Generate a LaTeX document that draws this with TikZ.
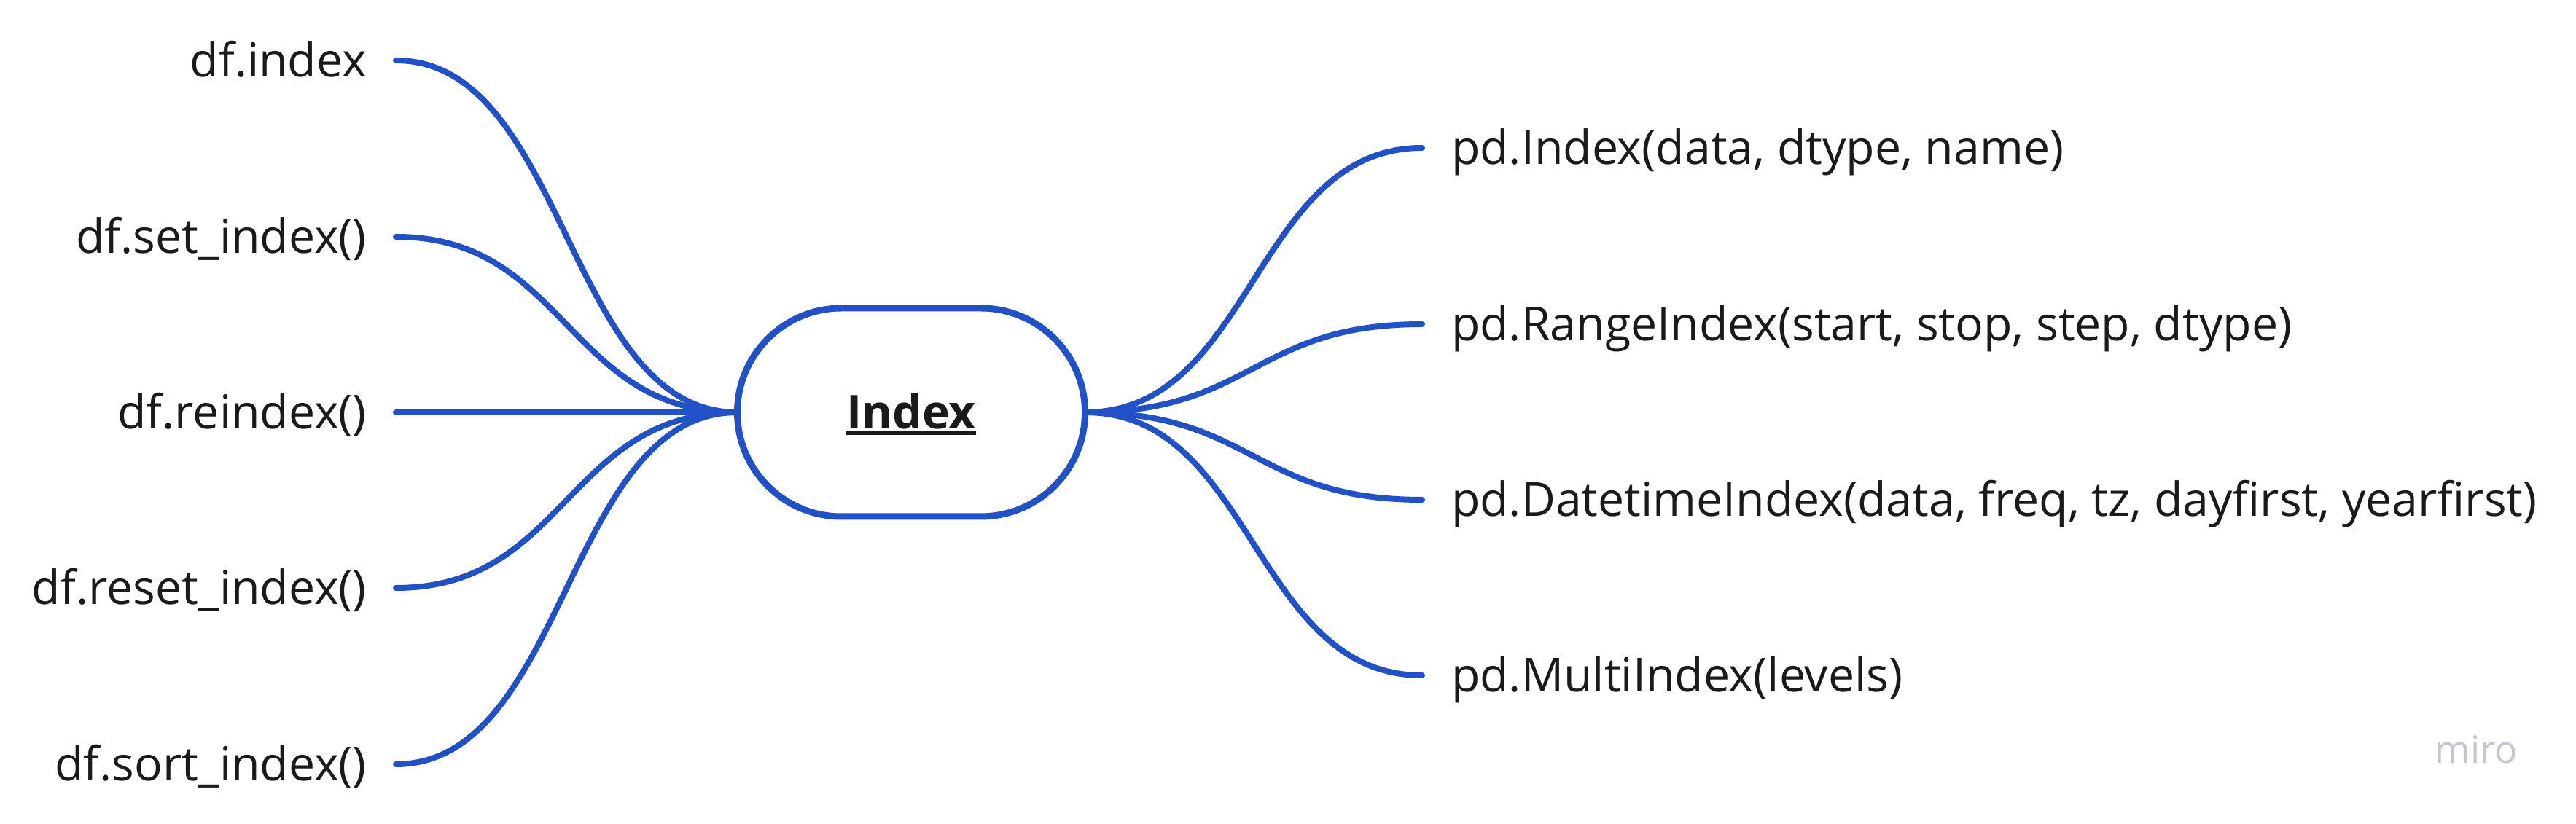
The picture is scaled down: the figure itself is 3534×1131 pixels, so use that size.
\documentclass[tikz,border=0pt]{standalone}
\usepackage{fontspec}
\setmainfont{Open Sans}
\usetikzlibrary{positioning}

\definecolor{branchblue}{RGB}{33,80,199}
\definecolor{labelink}{RGB}{26,26,26}
\definecolor{logogray}{RGB}{197,199,208}
\newcommand{\boxul}[1]{\setbox0\hbox{#1}\rlap{\rule[-2.1pt]{\wd0}{1.25pt}}\box0}

\begin{document}
\begin{tikzpicture}[x=0.25pt, y=-0.25pt,
    branch/.style={draw=branchblue, line width=2pt, line cap=round},
    leftlbl/.style={anchor=east, inner xsep=10pt, inner ysep=0pt, outer sep=0pt,
        text height=12.5pt, text depth=1pt, text=labelink, font=\fontsize{16.1}{19}\selectfont},
    rightlbl/.style={leftlbl, anchor=west},
    centerbox/.style={draw=branchblue, line width=2.25pt, rounded corners=35.75pt,
        minimum width=119.25pt, minimum height=71.5pt, inner sep=0pt, outer sep=0pt,
        text height=11.5pt, text depth=0pt, text=labelink, font=\bfseries\fontsize{16}{19}\selectfont}]
    \useasboundingbox (0,0) rectangle (3534,1131);

    \node (index) [centerbox] at (1250,566) {\boxul{Index}};

    % methods on the frame
    \node (dfidx) [leftlbl] at (543,83) {df.index};
    \node (setidx) [leftlbl] at (543,325) {df.set\_index()};
    \node (reidx) [leftlbl] at (543,566) {df.reindex()};
    \node (resetidx) [leftlbl] at (543,807) {df.reset\_index()};
    \node (sortidx) [leftlbl] at (543,1049) {df.sort\_index()};

    % constructors
    \node (pdidx) [rightlbl] at (1951,203) {pd.Index(data, dtype, name)};
    \node (rangeidx) [rightlbl] at (1951,445) {pd.RangeIndex(start, stop, step, dtype)};
    \node (dtidx) [rightlbl] at (1951,686) {pd.DatetimeIndex(data, freq, tz, dayfirst, yearfirst)};
    \node (multiidx) [rightlbl] at (1951,927) {pd.MultiIndex(levels)};

    \draw[branch] (dfidx.east) .. controls +(234,0) and +(-234,0) .. (index.west);
    \draw[branch] (setidx.east) .. controls +(234,0) and +(-234,0) .. (index.west);
    \draw[branch] (reidx.east) -- (index.west);
    \draw[branch] (resetidx.east) .. controls +(234,0) and +(-234,0) .. (index.west);
    \draw[branch] (sortidx.east) .. controls +(234,0) and +(-234,0) .. (index.west);

    \draw[branch] (index.east) .. controls +(231,0) and +(-231,0) .. (pdidx.west);
    \draw[branch] (index.east) .. controls +(231,0) and +(-231,0) .. (rangeidx.west);
    \draw[branch] (index.east) .. controls +(231,0) and +(-231,0) .. (dtidx.west);
    \draw[branch] (index.east) .. controls +(231,0) and +(-231,0) .. (multiidx.west);

    \node (logo) [anchor=base west, inner sep=0pt, text=logogray, font=\fontsize{13}{15}\selectfont] at (3340,1048) {miro};
\end{tikzpicture}
\end{document}
